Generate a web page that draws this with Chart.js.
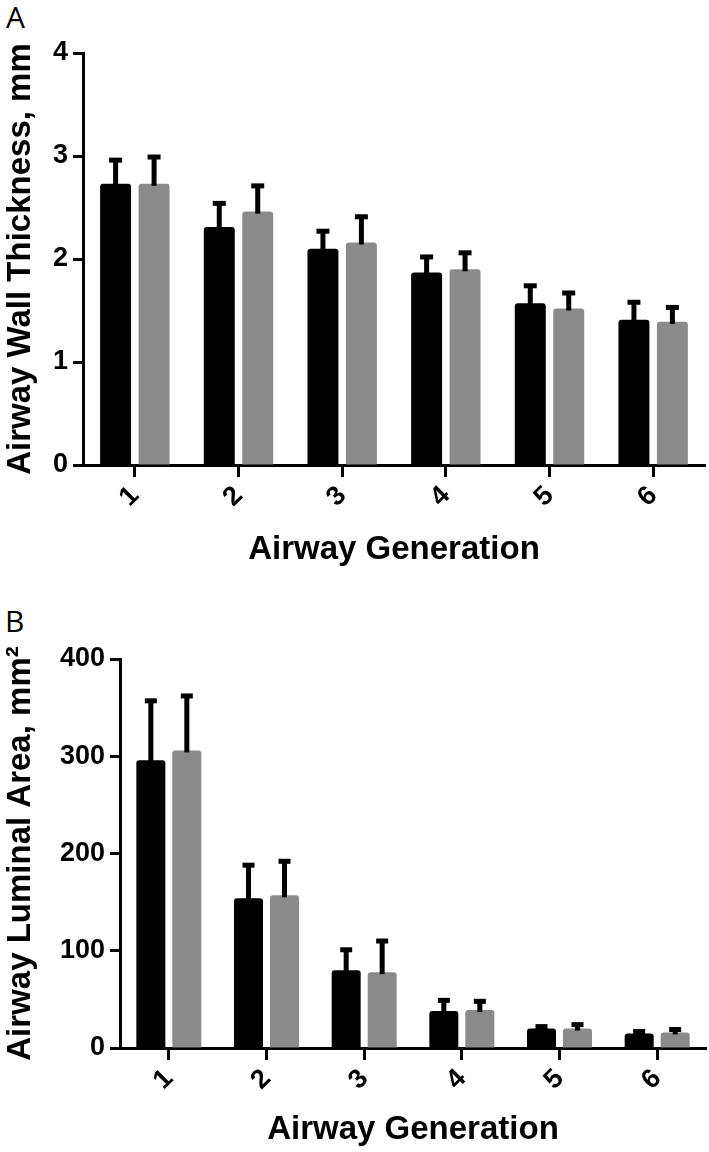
<!DOCTYPE html>
<html>
<head>
<meta charset="utf-8">
<script src="https://cdn.jsdelivr.net/npm/chart.js@4.4.1/dist/chart.umd.min.js"></script>
<style>
  html, body { margin: 0; padding: 0; background: #fff; }
  #wrap { position: relative; width: 709px; height: 1152px; overflow: hidden; }
  .panel { position: absolute; left: 0; width: 709px; height: 576px; }
  .tag { position: absolute; font-family: 'Open Sans', sans-serif; font-size: 30px; color: #000; line-height: 1; }
</style>
</head>
<body>
<div id="wrap">
  <div class="tag" style="left:6px; top:2px;">A</div>
  <div class="panel" style="top:0px;"><canvas id="wallChart" width="709" height="576"></canvas></div>
  <div class="tag" style="left:5px; top:606px;">B</div>
  <div class="panel" style="top:576px;"><canvas id="areaChart" width="709" height="576"></canvas></div>
</div>
<script>
const generations = ['1', '2', '3', '4', '5', '6'];

// panel A: airway wall thickness (mm), mean and SD
const wallBlack = [2.73, 2.31, 2.10, 1.87, 1.57, 1.41];
const wallBlackSd = [0.23, 0.23, 0.17, 0.15, 0.17, 0.17];
const wallGray = [2.73, 2.46, 2.16, 1.90, 1.52, 1.39];
const wallGraySd = [0.26, 0.25, 0.25, 0.16, 0.15, 0.14];
const wallTicks = [0, 1, 2, 3, 4];

// panel B: airway luminal area (mm2), mean and SD
const areaBlack = [296, 154, 80, 38, 20, 15];
const areaBlackSd = [61, 34, 21, 11, 2, 2];
const areaGray = [306, 157, 78, 39, 20, 16];
const areaGraySd = [56, 35, 32, 9, 4, 3];
const areaTicks = [0, 100, 200, 300, 400];

const FONT = "'Liberation Sans', Arial, sans-serif";

// upward-only error bars with a flat cap, like the prism style
const errorBars = {
  id: 'errorBars',
  afterDatasetsDraw(chart, args, opts) {
    const { ctx } = chart;
    const y = chart.scales.y;
    chart.data.datasets.forEach((ds, i) => {
      chart.getDatasetMeta(i).data.forEach((bar, j) => {
        const top = y.getPixelForValue(ds.data[j] + ds.sd[j]);
        const base = y.getPixelForValue(ds.data[j]);
        ctx.save();
        ctx.fillStyle = '#000';
        ctx.fillRect(bar.x - opts.stem / 2, top, opts.stem, base - top + 2);
        ctx.fillRect(bar.x - opts.cap / 2, top - opts.capH / 2, opts.cap, opts.capH);
        ctx.restore();
      });
    });
  }
};

function makeChart(id, o) {
  const bar = (data, sd, color) => ({
    data, sd, backgroundColor: color, borderWidth: 0, borderRadius: 3,
    categoryPercentage: o.catPct, barPercentage: o.barPct
  });
  return new Chart(document.getElementById(id), {
    type: 'bar',
    data: {
      labels: generations,
      datasets: [bar(o.black, o.blackSd, '#000000'), bar(o.gray, o.graySd, '#8a8a8a')]
    },
    plugins: [errorBars],
    options: {
      responsive: false,
      animation: false,
      layout: { padding: o.padding },
      plugins: {
        legend: { display: false },
        tooltip: { enabled: false },
        errorBars: o.err
      },
      scales: {
        x: {
          offset: true,
          afterFit: (s) => { s.height = o.xHeight; },
          grid: { offset: false, drawOnChartArea: false, tickLength: 12, tickWidth: 3, tickColor: '#000' },
          border: { display: true, width: 3, color: '#000' },
          ticks: { color: '#000', font: { family: FONT, size: 27, weight: 'bold' }, minRotation: 45, maxRotation: 45, padding: 3, autoSkip: false },
          title: { display: true, text: 'Airway Generation', color: '#000', font: { family: FONT, size: 33, weight: 'bold' }, padding: { bottom: o.xTitlePad } }
        },
        y: {
          min: o.ticks[0],
          max: o.ticks[o.ticks.length - 1],
          afterFit: (s) => { s.width = o.yWidth; },
          afterBuildTicks: (s) => { s.ticks = o.ticks.map((v) => ({ value: v })); },
          grid: { drawOnChartArea: false, tickLength: 10, tickWidth: 3, tickColor: '#000' },
          border: { display: true, width: 3, color: '#000' },
          ticks: { color: '#000', font: { family: FONT, size: 27, weight: 'bold' }, padding: 5 },
          title: { display: true, text: o.yTitle, color: '#000', font: { family: FONT, size: 33, weight: 'bold' }, padding: { top: 1 } }
        }
      }
    }
  });
}

makeChart('wallChart', {
  black: wallBlack, blackSd: wallBlackSd, gray: wallGray, graySd: wallGraySd,
  ticks: wallTicks, yTitle: 'Airway Wall Thickness, mm',
  padding: { top: 53, right: 4, left: 0, bottom: 0 },
  yWidth: 83, xHeight: 111, xTitlePad: 6,
  catPct: 0.742, barPct: 0.805,
  err: { stem: 5, cap: 13, capH: 5 }
});

makeChart('areaChart', {
  black: areaBlack, blackSd: areaBlackSd, gray: areaGray, graySd: areaGraySd,
  ticks: areaTicks, yTitle: 'Airway Luminal Area, mm\u00B2',
  padding: { top: 83, right: 3, left: 0, bottom: 0 },
  yWidth: 120, xHeight: 104, xTitlePad: 2,
  catPct: 0.737, barPct: 0.806,
  err: { stem: 5, cap: 12, capH: 5 }
});
</script>
</body>
</html>
